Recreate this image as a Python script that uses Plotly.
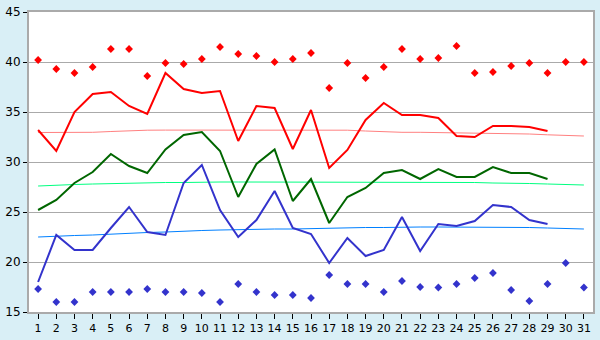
import plotly.graph_objects as go

days = list(range(1, 32))
days_obs = list(range(1, 30))

max_temp = [33.2, 31.1, 35.0, 36.8, 37.0, 35.6, 34.8, 38.9, 37.3, 36.9,
            37.1, 32.1, 35.6, 35.4, 31.3, 35.2, 29.4, 31.2, 34.2, 35.9,
            34.7, 34.7, 34.4, 32.6, 32.5, 33.6, 33.6, 33.5, 33.1]
mean_temp = [25.2, 26.2, 27.9, 29.0, 30.8, 29.6, 28.9, 31.25, 32.7, 33.0,
             31.1, 26.5, 29.8, 31.25, 26.1, 28.3, 23.9, 26.5, 27.4, 28.9,
             29.2, 28.3, 29.3, 28.5, 28.5, 29.5, 28.9, 28.9, 28.3]
min_temp = [18.0, 22.7, 21.2, 21.2, 23.4, 25.5, 23.0, 22.7, 27.9, 29.7,
            25.2, 22.5, 24.2, 27.1, 23.4, 22.8, 19.9, 22.4, 20.6, 21.2,
            24.5, 21.1, 23.8, 23.6, 24.1, 25.7, 25.5, 24.2, 23.8]

record_high = [40.2, 39.3, 38.9, 39.5, 41.3, 41.3, 38.6, 39.9, 39.8, 40.3,
               41.5, 40.8, 40.6, 40.0, 40.3, 40.9, 37.4, 39.9, 38.4, 39.5,
               41.3, 40.3, 40.4, 41.6, 38.9, 39.0, 39.6, 39.9, 38.9, 40.0, 40.0]
record_low = [17.3, 16.0, 16.0, 17.0, 17.0, 17.0, 17.3, 17.0, 17.0, 16.9,
              16.0, 17.8, 17.0, 16.7, 16.7, 16.4, 18.7, 17.8, 17.8, 17.0,
              18.1, 17.5, 17.45, 17.8, 18.4, 18.9, 17.2, 16.1, 17.8, 19.9, 17.45]

normal_max = [32.95, 32.95, 32.95, 32.97, 33.05, 33.15, 33.18, 33.19, 33.19, 33.19,
              33.19, 33.19, 33.19, 33.19, 33.19, 33.19, 33.19, 33.18, 33.1, 33.0,
              32.97, 32.97, 32.95, 32.9, 32.87, 32.87, 32.85, 32.8, 32.72, 32.68, 32.6]
normal_mean = [27.6, 27.7, 27.75, 27.8, 27.85, 27.9, 27.9, 27.95, 27.95, 28.0,
               28.0, 28.0, 28.0, 28.0, 28.0, 28.0, 28.0, 28.0, 28.0, 28.0,
               28.0, 28.0, 28.0, 28.0, 27.95, 27.9, 27.9, 27.85, 27.8, 27.75, 27.7]
normal_min = [22.5, 22.6, 22.65, 22.7, 22.8, 22.85, 22.95, 23.0, 23.1, 23.15,
              23.2, 23.25, 23.25, 23.3, 23.3, 23.35, 23.4, 23.4, 23.45, 23.45,
              23.5, 23.5, 23.5, 23.5, 23.5, 23.5, 23.5, 23.45, 23.4, 23.35, 23.3]

y_ticks = [15, 20, 25, 30, 35, 40, 45]

fig = go.Figure()

fig.add_trace(go.Scatter(x=days, y=normal_max, mode="lines",
                         line=dict(color="#ff8080", width=1), hoverinfo="skip"))
fig.add_trace(go.Scatter(x=days, y=normal_mean, mode="lines",
                         line=dict(color="#00ff80", width=1), hoverinfo="skip"))
fig.add_trace(go.Scatter(x=days, y=normal_min, mode="lines",
                         line=dict(color="#0080ff", width=1), hoverinfo="skip"))

fig.add_trace(go.Scatter(x=days_obs, y=max_temp, mode="lines",
                         line=dict(color="#ff0000", width=2)))
fig.add_trace(go.Scatter(x=days_obs, y=mean_temp, mode="lines",
                         line=dict(color="#006600", width=2)))
fig.add_trace(go.Scatter(x=days_obs, y=min_temp, mode="lines",
                         line=dict(color="#3333cc", width=2)))

fig.add_trace(go.Scatter(x=days, y=record_high, mode="markers",
                         marker=dict(symbol="diamond", size=6, color="#ff0000")))
fig.add_trace(go.Scatter(x=days, y=record_low, mode="markers",
                         marker=dict(symbol="diamond", size=6, color="#3333cc")))

fig.update_layout(
    width=600, height=340,
    margin=dict(l=20, r=5, t=5, b=20),
    paper_bgcolor="#d9eff6",
    plot_bgcolor="#ffffff",
    showlegend=False,
    font=dict(family="DejaVu Sans", size=11, color="#000000"),
)
fig.update_xaxes(
    range=[0.5, 31.5], tickmode="array", tickvals=days,
    ticktext=[str(d) for d in days],
    showgrid=False, zeroline=False,
    showline=True, linecolor="#aaaaaa", linewidth=2, mirror=True,
    ticks="outside", ticklen=5, tickcolor="#000000", tickwidth=1,
    tickfont=dict(size=11),
)
fig.update_yaxes(
    range=[15, 45], tickmode="array", tickvals=y_ticks,
    ticktext=[str(v) for v in y_ticks],
    showgrid=True, gridcolor="#aaaaaa", gridwidth=1, zeroline=False,
    showline=True, linecolor="#aaaaaa", linewidth=2, mirror=True,
    ticks="outside", ticklen=4, tickcolor="#000000", tickwidth=1,
    tickfont=dict(size=12),
)

fig.write_html("out.html")
